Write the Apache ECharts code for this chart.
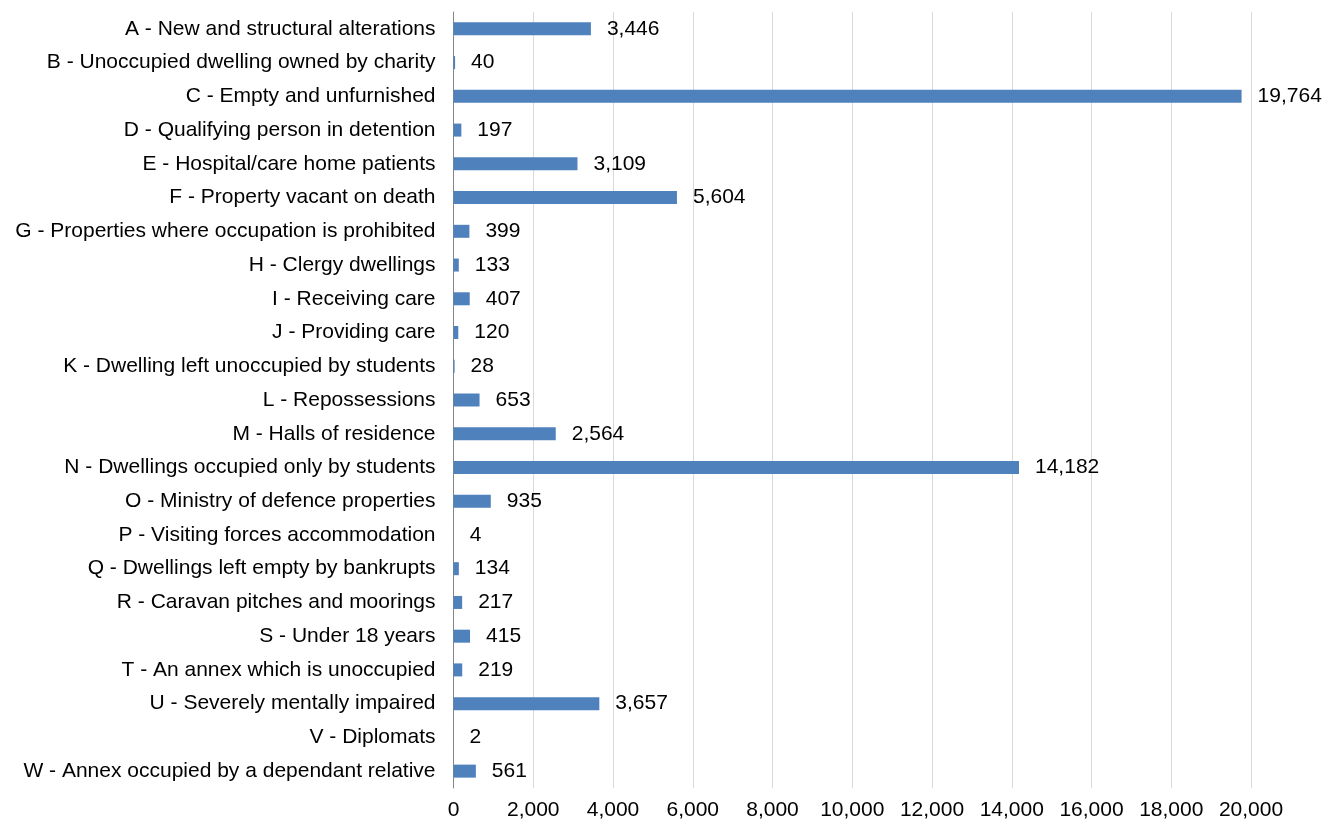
<!DOCTYPE html>
<html>
<head>
<meta charset="utf-8">
<style>
  html, body { margin: 0; padding: 0; background: #ffffff; }
  #chart { width: 1336px; height: 825px; }
</style>
<script src="https://cdn.jsdelivr.net/npm/echarts@6/dist/echarts.min.js"></script>
</head>
<body>
<div id="chart"></div>
<script>
// Exemption classes, listed top to bottom
const categories = [
  'A - New and structural alterations',
  'B - Unoccupied dwelling owned by charity',
  'C - Empty and unfurnished',
  'D - Qualifying person in detention',
  'E - Hospital/care home patients',
  'F - Property vacant on death',
  'G - Properties where occupation is prohibited',
  'H - Clergy dwellings',
  'I - Receiving care',
  'J - Providing care',
  'K - Dwelling left unoccupied by students',
  'L - Repossessions',
  'M - Halls of residence',
  'N - Dwellings occupied only by students',
  'O - Ministry of defence properties',
  'P - Visiting forces accommodation',
  'Q - Dwellings left empty by bankrupts',
  'R - Caravan pitches and moorings',
  'S - Under 18 years',
  'T - An annex which is unoccupied',
  'U - Severely mentally impaired',
  'V - Diplomats',
  'W - Annex occupied by a dependant relative'
];

// Number of properties per exemption class
const counts = [
  3446, 40, 19764, 197, 3109, 5604, 399, 133, 407, 120, 28, 653,
  2564, 14182, 935, 4, 134, 217, 415, 219, 3657, 2, 561
];

// Value axis range
const axisMin = 0;
const axisMax = 20000;
const axisStep = 2000;

const fmt = v => Number(v).toLocaleString('en-US');
const font = '"Liberation Sans", Arial, sans-serif';
const textSize = 21;

const chart = echarts.init(document.getElementById('chart'), null, { renderer: 'canvas' });
chart.setOption({
  animation: false,
  backgroundColor: '#ffffff',
  grid: { left: 453.5, right: 85, top: 12, bottom: 37, containLabel: false },
  xAxis: {
    type: 'value',
    min: axisMin,
    max: axisMax,
    interval: axisStep,
    axisLine: { show: false },
    axisTick: { show: false },
    splitLine: { show: true, lineStyle: { color: '#d9d9d9', width: 1 } },
    axisLabel: {
      formatter: fmt,
      color: '#000000',
      fontFamily: font,
      fontSize: textSize,
      margin: 12
    }
  },
  yAxis: {
    type: 'category',
    data: categories,
    inverse: true,
    axisLine: { show: true, lineStyle: { color: '#868686', width: 1 } },
    axisTick: { show: false },
    axisLabel: {
      color: '#000000',
      fontFamily: font,
      fontSize: textSize,
      margin: 18
    }
  },
  series: [{
    type: 'bar',
    data: counts,
    barWidth: 13,
    itemStyle: { color: '#4f81bd' },
    label: {
      show: true,
      position: 'right',
      distance: 16,
      formatter: p => fmt(p.value),
      color: '#000000',
      fontFamily: font,
      fontSize: textSize
    }
  }]
});
</script>
</body>
</html>
